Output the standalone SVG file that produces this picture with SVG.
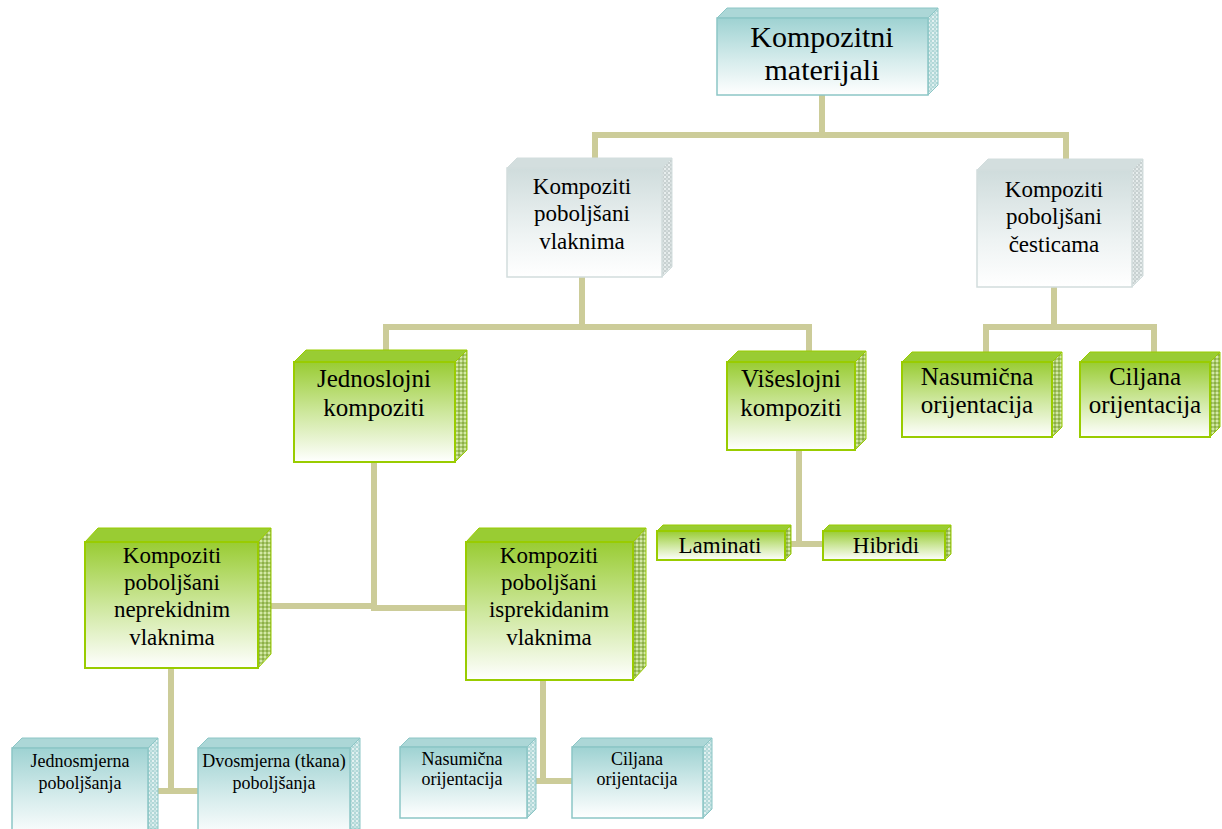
<svg xmlns="http://www.w3.org/2000/svg" width="1222" height="829" viewBox="0 0 1222 829">
<defs>
<linearGradient id="gTeal" x1="0" y1="0" x2="0" y2="1">
<stop offset="0" stop-color="#9ed2d2"/><stop offset="0.55" stop-color="#d6ecec"/><stop offset="1" stop-color="#ffffff"/>
</linearGradient>
<linearGradient id="gGrey" x1="0" y1="0" x2="0" y2="1">
<stop offset="0" stop-color="#cfdcdc"/><stop offset="0.6" stop-color="#eef3f3"/><stop offset="1" stop-color="#ffffff"/>
</linearGradient>
<linearGradient id="gGreen" x1="0" y1="0" x2="0" y2="1">
<stop offset="0" stop-color="#99cc33"/><stop offset="0.5" stop-color="#cde79c"/><stop offset="1" stop-color="#ffffff"/>
</linearGradient>
<pattern id="pTeal" width="4" height="4" patternUnits="userSpaceOnUse">
<rect width="4" height="4" fill="#b2d8d8"/><rect width="2" height="2" fill="#e2f1f1"/><rect x="2" y="2" width="2" height="2" fill="#c8e4e4"/>
</pattern>
<pattern id="pGrey" width="4" height="4" patternUnits="userSpaceOnUse">
<rect width="4" height="4" fill="#c8d1d1"/><rect width="2" height="2" fill="#e8eeee"/><rect x="2" y="2" width="2" height="2" fill="#d8e0e0"/>
</pattern>
<pattern id="pGreen" width="4" height="4" patternUnits="userSpaceOnUse">
<rect width="4" height="4" fill="#a8c86a"/><rect width="2" height="2" fill="#d4e8a8"/><rect x="2" y="2" width="2" height="2" fill="#8cae48"/>
</pattern>
<style>
.conn{fill:none;stroke:#cccc99;stroke-width:6;stroke-linecap:butt}
.tF{fill:url(#gTeal);stroke:#8cc6c6;stroke-width:1.5}
.tT{fill:#acd7d7;stroke:#8cc6c6;stroke-width:1}
.tS{fill:url(#pTeal);stroke:#8cc6c6;stroke-width:1}
.gF{fill:url(#gGrey);stroke:#d2dddd;stroke-width:1.5}
.gT{fill:#d3dede;stroke:#d2dddd;stroke-width:1}
.gS{fill:url(#pGrey);stroke:#d2dddd;stroke-width:1}
.nF{fill:url(#gGreen);stroke:#99cc00;stroke-width:2}
.nT{fill:#99cc33;stroke:#99cc00;stroke-width:1}
.nS{fill:url(#pGreen);stroke:#99cc00;stroke-width:1}
text{font-family:"Liberation Serif","Times New Roman",serif;fill:#000;text-anchor:middle}
.f30{font-size:30px}.f23{font-size:23px}.f25{font-size:25px}.f18{font-size:18px}
</style>
</defs>
<rect width="1222" height="829" fill="#ffffff"/>
<g id="connectors">
<path class="conn" d="M822,95 V135 M595,135 H1066 M595,132 V162 M1066,132 V162"/>
<path class="conn" d="M582,277 V327 M386,327 H809 M386,324 V352 M809,324 V352"/>
<path class="conn" d="M1054,287 V327 M986,327 H1154 M986,324 V354 M1154,324 V354"/>
<path class="conn" d="M374,462 V611 M271,606 H374 M374,608 H466"/>
<path class="conn" d="M799,450 V544 M785,544 H823"/>
<path class="conn" d="M171,668 V794 M150,791 H198"/>
<path class="conn" d="M543,680 V784 M527,781 H572"/>
</g>
<g id="n-kompozitni-materijali">
<polygon class="tT" points="717,18 727,8 938,8 928,18"/>
<polygon class="tS" points="928,18 938,8 938,85 928,95"/>
<rect class="tF" x="717" y="18" width="211" height="77"/>
<text class="f30" x="822" y="47">Kompozitni</text>
<text class="f30" x="822" y="80">materijali</text>
</g>
<g id="n-vlaknima">
<polygon class="gT" points="507,168 517,158 672,158 662,168"/>
<polygon class="gS" points="662,168 672,158 672,267 662,277"/>
<rect class="gF" x="507" y="168" width="155" height="109"/>
<text class="f23" x="582" y="194">Kompoziti</text>
<text class="f23" x="582" y="221">poboljšani</text>
<text class="f23" x="582" y="249">vlaknima</text>
</g>
<g id="n-cesticama">
<polygon class="gT" points="977,170 988,159 1143,159 1132,170"/>
<polygon class="gS" points="1132,170 1143,159 1143,276 1132,287"/>
<rect class="gF" x="977" y="170" width="155" height="117"/>
<text class="f23" x="1054" y="197">Kompoziti</text>
<text class="f23" x="1054" y="224">poboljšani</text>
<text class="f23" x="1054" y="252">česticama</text>
</g>
<g id="n-jednoslojni">
<polygon class="nT" points="294,362 306,350 467,350 455,362"/>
<polygon class="nS" points="455,362 467,350 467,450 455,462"/>
<rect class="nF" x="294" y="362" width="161" height="100"/>
<text class="f25" x="374" y="387">Jednoslojni</text>
<text class="f25" x="374" y="416">kompoziti</text>
</g>
<g id="n-viseslojni">
<polygon class="nT" points="727,362 738,351 866,351 855,362"/>
<polygon class="nS" points="855,362 866,351 866,439 855,450"/>
<rect class="nF" x="727" y="362" width="128" height="88"/>
<text class="f25" x="791" y="387">Višeslojni</text>
<text class="f25" x="791" y="416">kompoziti</text>
</g>
<g id="n-nasumicna-1">
<polygon class="nT" points="902,362 912,352 1062,352 1052,362"/>
<polygon class="nS" points="1052,362 1062,352 1062,427 1052,437"/>
<rect class="nF" x="902" y="362" width="150" height="75"/>
<text class="f25" x="977" y="385">Nasumična</text>
<text class="f25" x="977" y="413">orijentacija</text>
</g>
<g id="n-ciljana-1">
<polygon class="nT" points="1080,362 1090,352 1220,352 1210,362"/>
<polygon class="nS" points="1210,362 1220,352 1220,427 1210,437"/>
<rect class="nF" x="1080" y="362" width="130" height="75"/>
<text class="f25" x="1145" y="385">Ciljana</text>
<text class="f25" x="1145" y="413">orijentacija</text>
</g>
<g id="n-laminati">
<polygon class="nT" points="657,531 663,525 791,525 785,531"/>
<polygon class="nS" points="785,531 791,525 791,554 785,560"/>
<rect class="nF" x="657" y="531" width="128" height="29"/>
<text class="f23" x="720" y="553">Laminati</text>
</g>
<g id="n-hibridi">
<polygon class="nT" points="823,531 829,525 951,525 945,531"/>
<polygon class="nS" points="945,531 951,525 951,554 945,560"/>
<rect class="nF" x="823" y="531" width="122" height="29"/>
<text class="f23" x="886" y="553">Hibridi</text>
</g>
<g id="n-neprekidnim">
<polygon class="nT" points="85,542 98,528 271,528 258,542"/>
<polygon class="nS" points="258,542 271,528 271,654 258,668"/>
<rect class="nF" x="85" y="542" width="173" height="126"/>
<text class="f23" x="172" y="563">Kompoziti</text>
<text class="f23" x="172" y="590">poboljšani</text>
<text class="f23" x="172" y="617">neprekidnim</text>
<text class="f23" x="172" y="645">vlaknima</text>
</g>
<g id="n-isprekidanim">
<polygon class="nT" points="466,542 479,528 646,528 633,542"/>
<polygon class="nS" points="633,542 646,528 646,666 633,680"/>
<rect class="nF" x="466" y="542" width="167" height="138"/>
<text class="f23" x="549" y="563">Kompoziti</text>
<text class="f23" x="549" y="590">poboljšani</text>
<text class="f23" x="549" y="617">isprekidanim</text>
<text class="f23" x="549" y="645">vlaknima</text>
</g>
<g id="n-jednosmjerna">
<polygon class="tT" points="12,748 22,738 158,738 148,748"/>
<polygon class="tS" points="148,748 158,738 158,829 148,829"/>
<rect class="tF" x="12" y="748" width="136" height="90"/>
<text class="f18" x="80" y="767">Jednosmjerna</text>
<text class="f18" x="80" y="789">poboljšanja</text>
</g>
<g id="n-dvosmjerna">
<polygon class="tT" points="198,748 208,738 360,738 350,748"/>
<polygon class="tS" points="350,748 360,738 360,829 350,829"/>
<rect class="tF" x="198" y="748" width="152" height="90"/>
<text class="f18" x="274" y="767">Dvosmjerna (tkana)</text>
<text class="f18" x="274" y="789">poboljšanja</text>
</g>
<g id="n-nasumicna-2">
<polygon class="tT" points="400,747 409,738 536,738 527,747"/>
<polygon class="tS" points="527,747 536,738 536,809 527,818"/>
<rect class="tF" x="400" y="747" width="127" height="71"/>
<text class="f18" x="462" y="765">Nasumična</text>
<text class="f18" x="462" y="785">orijentacija</text>
</g>
<g id="n-ciljana-2">
<polygon class="tT" points="572,747 581,738 712,738 703,747"/>
<polygon class="tS" points="703,747 712,738 712,809 703,818"/>
<rect class="tF" x="572" y="747" width="131" height="71"/>
<text class="f18" x="637" y="765">Ciljana</text>
<text class="f18" x="637" y="785">orijentacija</text>
</g>
</svg>
